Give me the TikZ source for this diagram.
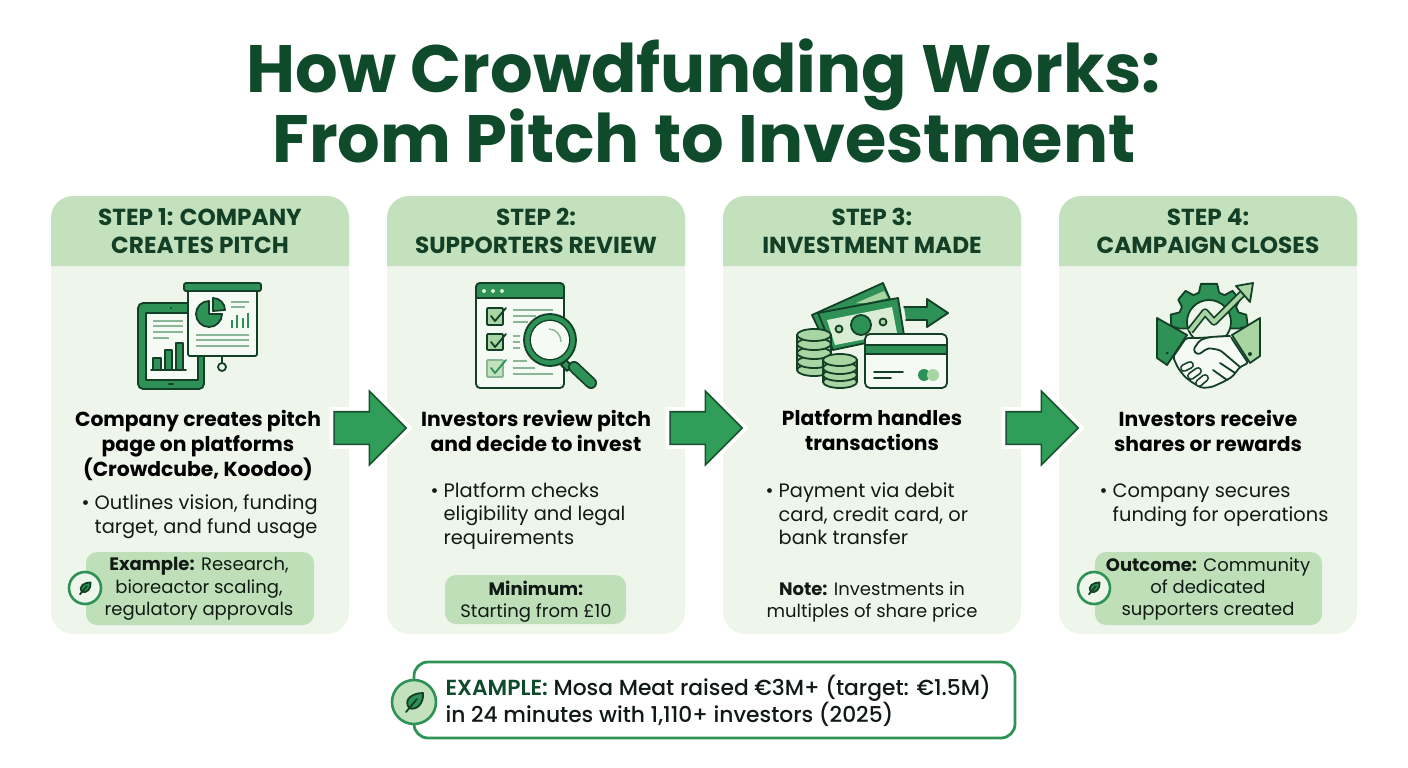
\documentclass[tikz,border=0pt]{standalone}
\usepackage{fontspec}
\usetikzlibrary{shapes.arrows}
\setmainfont{Poppins}
\newfontfamily\poppinssemi{Poppins SemiBold}
\newfontfamily\poppinsmed{Poppins Medium}
\definecolor{titlegreen}{HTML}{0F4A2B}
\definecolor{headgreen}{HTML}{C3E1BC}
\definecolor{cardgreen}{HTML}{EEF6EC}
\definecolor{screengreen}{HTML}{F6FAF5}
\definecolor{notegreen}{HTML}{BFDFB9}
\definecolor{midgreen}{HTML}{2E9256}
\definecolor{arrowgreen}{HTML}{2F9E58}
\definecolor{lightgreen}{HTML}{A9D5A3}
\definecolor{palegreen}{HTML}{D8EDD3}
\definecolor{inkgreen}{HTML}{123F26}
\definecolor{linegreen}{HTML}{8AB896}
\definecolor{inktext}{HTML}{111A14}
\tikzset{
  titletext/.style={align=center, text=titlegreen, font={\fontsize{67}{70}\bfseries\selectfont\lineskiplimit -100pt\relax}},
  headtext/.style={align=center, text=inkgreen, font=\fontsize{23.2}{28}\bfseries\selectfont},
  leadtext/.style={align=center, text=black, font=\fontsize{20.3}{25}\bfseries\selectfont},
  bullettext/.style={align=left, anchor=west, text=inktext, font=\fontsize{19.4}{23.6}\selectfont},
  notetext/.style={align=center, text=inktext, font=\fontsize{18}{22.3}\selectfont},
  cardbody/.style={rectangle, fill=cardgreen, rounded corners=22, minimum width=298, minimum height=438, inner sep=0pt},
  headfill/.style={fill=headgreen},
  notebox/.style={rectangle, fill=notegreen, rounded corners=11, inner sep=0pt},
  steparrow/.style={single arrow, draw=inkgreen!80!arrowgreen, fill=arrowgreen, line width=1.6pt, minimum width=72, minimum height=72,
    single arrow head extend=20.5, inner sep=15.5, preaction={draw=white, line width=9pt}},
  smallbadge/.style={circle, draw=midgreen, fill=cardgreen, line width=2.6pt, minimum size=32, inner sep=0pt},
  bigbadge/.style={circle, draw=midgreen, fill=headgreen, line width=2.6pt, minimum size=44, inner sep=0pt},
  iconline/.style={draw=inkgreen, line width=1.8pt, line join=round, line cap=round},
  softline/.style={draw=linegreen, line width=1.6pt},
  barline/.style={draw=midgreen, line width=1.6pt},
  coinface/.style={iconline, fill=lightgreen},
  leaf/.pic={
    \draw[iconline, fill=midgreen] (-5,6) .. controls (-11,-3) and (-1,-9) .. (9,-9) .. controls (10,2) and (2,9) .. (-5,6) -- cycle;
    \draw[iconline] (-8,10) -- (3,-3);
  },
}
\begin{document}
\begin{tikzpicture}[x=1pt, y=-1pt]
    \useasboundingbox (0, 0) rectangle (1408, 768);

    \node[titletext] at (704, 101) (title) {How Crowdfunding Works:\\From Pitch to Investment};

    \node[cardbody] at (200, 415)  (card1) {};
    \node[cardbody] at (536, 415)  (card2) {};
    \node[cardbody] at (872, 415)  (card3) {};
    \node[cardbody] at (1208, 415) (card4) {};

    \path[headfill] (51, 266) [rounded corners=22] -- (51, 196) -- (349, 196) [sharp corners] -- (349, 266) -- cycle;
    \path[headfill] (387, 266) [rounded corners=22] -- (387, 196) -- (685, 196) [sharp corners] -- (685, 266) -- cycle;
    \path[headfill] (723, 266) [rounded corners=22] -- (723, 196) -- (1021, 196) [sharp corners] -- (1021, 266) -- cycle;
    \path[headfill] (1059, 266) [rounded corners=22] -- (1059, 196) -- (1357, 196) [sharp corners] -- (1357, 266) -- cycle;

    \node[headtext] at (200, 231)  (head1) {STEP 1: COMPANY\\CREATES PITCH};
    \node[headtext] at (536, 231)  (head2) {STEP 2:\\SUPPORTERS REVIEW};
    \node[headtext] at (872, 231)  (head3) {STEP 3:\\INVESTMENT MADE};
    \node[headtext] at (1208, 231) (head4) {STEP 4:\\CAMPAIGN CLOSES};

    \node[steparrow] at (362, 428)  (arrow1) {};
    \node[steparrow] at (698, 428)  (arrow2) {};
    \node[steparrow] at (1034, 428) (arrow3) {};

    \draw[iconline, fill=midgreen, rounded corners=5] (138, 303) rectangle (204, 389);
    \draw[iconline, fill=screengreen] (146, 313) rectangle (198, 380);
    \fill[inkgreen] (171, 308) circle[radius=1];
    \draw[iconline] (169, 384) -- (173, 384);
    \draw[softline] (153, 321) -- (183, 321);
    \draw[softline] (153, 326) -- (183, 326);
    \draw[softline] (153, 332) -- (183, 332);
    \draw[softline] (153, 338) -- (169, 338);
    \draw[iconline, fill=midgreen] (153, 358) rectangle (161, 370);
    \draw[iconline, fill=midgreen] (165, 350) rectangle (172, 370);
    \draw[iconline, fill=midgreen] (176, 343) rectangle (183, 370);
    \draw[iconline] (151, 370) -- (186, 370);
    \draw[iconline, fill=screengreen, rounded corners=2] (188, 288) rectangle (257, 356);
    \draw[iconline, fill=midgreen, rounded corners=2] (184, 283) rectangle (261, 291);
    \draw[iconline] (222, 356) -- (222, 363);
    \draw[iconline] (222, 367) circle[radius=4];
    \draw[iconline, fill=midgreen] (209, 314) -- (222, 314) arc[start angle=0, end angle=270, radius=13] -- cycle;
    \draw[iconline, fill=midgreen] (213, 311) -- (213, 298) arc[start angle=270, end angle=360, radius=12] -- cycle;
    \draw[softline] (231, 302) -- (249, 302);
    \draw[softline] (231, 307) -- (245, 307);
    \draw[barline] (232, 328) -- (232, 320);
    \draw[barline] (237, 328) -- (237, 315);
    \draw[barline] (243, 328) -- (243, 318);
    \draw[barline] (248, 328) -- (248, 313);
    \draw[softline] (196, 335) -- (249, 335);
    \draw[softline] (196, 340) -- (249, 340);
    \draw[softline] (196, 346) -- (249, 346);

    \draw[iconline, fill=screengreen, rounded corners=4] (476, 283) rectangle (564, 388);
    \draw[iconline, fill=midgreen] (476, 298) [rounded corners=4] -- (476, 283) -- (564, 283) [sharp corners] -- (564, 298) -- cycle;
    \fill[palegreen] (484, 291) circle[radius=2];
    \fill[palegreen] (493, 291) circle[radius=2];
    \fill[palegreen] (502, 291) circle[radius=2];
    \draw[iconline, fill=lightgreen, rounded corners=1] (487, 308) rectangle (503, 325);
    \draw[iconline, fill=lightgreen, rounded corners=1] (487, 334) rectangle (503, 350);
    \draw[draw=linegreen, line width=1.8pt, fill=headgreen, rounded corners=1] (487, 360) rectangle (503, 377);
    \draw[iconline] (491, 316) -- (495, 321) -- (506, 308);
    \draw[iconline] (491, 342) -- (495, 347) -- (506, 334);
    \draw[iconline, draw=midgreen] (491, 368) -- (495, 373) -- (506, 360);
    \draw[softline] (513, 310) -- (553, 310);
    \draw[softline] (513, 316) -- (536, 316);
    \draw[softline] (513, 322) -- (528, 322);
    \draw[softline] (513, 336) -- (520, 336);
    \draw[softline] (513, 342) -- (520, 342);
    \draw[softline] (513, 348) -- (520, 348);
    \draw[softline] (513, 361) -- (527, 361);
    \draw[softline] (513, 368) -- (535, 368);
    \draw[softline] (513, 374) -- (553, 374);
    \draw[iconline, fill=midgreen] (566, 360) -- (572, 366) -- (567, 371) -- (561, 365) -- cycle;
    \draw[iconline, line width=12pt] (574, 367) -- (591, 383);
    \draw[draw=midgreen, line width=8.6pt, line cap=round] (574, 367) -- (591, 383);
    \draw[iconline, fill=midgreen, even odd rule] (550, 340) circle[radius=26] circle[radius=19.5];
    \fill[screengreen] (550, 340) circle[radius=19];
    \draw[draw=linegreen, line width=1.4pt] (549, 329) .. controls (556, 329) and (561, 335) .. (561, 342);

    \draw[iconline, fill=midgreen] (812, 315) -- (883, 283) -- (892, 304) -- (822, 336) -- cycle;
    \fill[lightgreen] (856, 303) -- (884, 291) -- (888, 298) -- (866, 303) -- cycle;
    \draw[iconline, fill=midgreen] (818, 313) -- (898, 298) -- (904, 335) -- (833, 350) -- cycle;
    \fill[palegreen] (827, 320) -- (892, 307) -- (897, 333) -- (835, 345) -- cycle;
    \draw[iconline, fill=midgreen] (861, 325) circle[radius=10];
    \draw[iconline, fill=lightgreen] (839, 329) circle[radius=3.5];
    \draw[iconline, fill=lightgreen] (883, 322) circle[radius=3.5];
    \draw[iconline, fill=midgreen] (904, 307) -- (927, 307) -- (927, 299) -- (948, 313) -- (927, 327) -- (927, 320) -- (906, 320);
    \draw[coinface] (797, 335) rectangle (831, 370);
    \draw[coinface] (814, 370) ellipse[x radius=17, y radius=6];
    \draw[coinface] (814, 362) ellipse[x radius=17, y radius=6];
    \draw[coinface] (814, 353) ellipse[x radius=17, y radius=6];
    \draw[coinface] (814, 344) ellipse[x radius=17, y radius=6];
    \draw[coinface] (814, 335) ellipse[x radius=17, y radius=6];
    \draw[coinface] (823, 360) rectangle (857, 382);
    \draw[coinface] (840, 382) ellipse[x radius=17, y radius=6];
    \draw[coinface] (840, 375) ellipse[x radius=17, y radius=6];
    \draw[coinface] (840, 368) ellipse[x radius=17, y radius=6];
    \draw[coinface] (840, 360) ellipse[x radius=17, y radius=6];
    \draw[iconline, fill=screengreen, rounded corners=5] (865, 334) rectangle (947, 388);
    \draw[draw=inkgreen, line width=1.2pt, fill=midgreen] (865, 345) rectangle (947, 354);
    \draw[iconline] (874, 372) -- (903, 372);
    \draw[iconline] (874, 378) -- (891, 378);
    \fill[midgreen] (924, 375) circle[radius=6];
    \fill[lightgreen] (933, 375) circle[radius=6];

    \begin{scope}[shift={(1209, 322)}]
      \draw[iconline, fill=midgreen] (168:31) -- (174:38) -- (191:39) -- (198:31) -- (209:31) -- (216:38) -- (233:39) -- (240:31)
        -- (251:31) -- (258:39) -- (282:39) -- (289:31) -- (300:31) -- (307:39) -- (324:38) -- (331:31) -- (342:31) -- (349:38) -- (6:39) -- (12:31) -- cycle;
      \draw[iconline, fill=cardgreen] (0, 0) circle[radius=22];
    \end{scope}
    \draw[iconline, line width=7.5pt, line cap=butt] (1190, 331) -- (1205, 312) -- (1214, 322) -- (1242, 294);
    \draw[draw=lightgreen, line width=4pt, line join=round] (1190, 331) -- (1205, 312) -- (1214, 322) -- (1242, 294);
    \draw[iconline, fill=lightgreen] (1253, 283) -- (1236, 286) -- (1250, 302) -- cycle;
    \draw[iconline, fill=screengreen, rounded corners=2] (1186, 338) -- (1198, 338) -- (1230, 336) -- (1248, 363) -- (1240, 367) -- (1232, 377) -- (1223, 382)
      -- (1212, 387) -- (1202, 388) -- (1193, 383) -- (1185, 377) -- (1178, 368) -- (1173, 357) -- cycle;
    \draw[iconline, fill=screengreen, rounded corners=3] (1230, 336) -- (1210, 337) -- (1200, 340) -- (1193, 350) -- (1198, 355) -- (1208, 348) -- (1220, 350) -- (1240, 367);
    \draw[iconline] (1213, 370) -- (1227, 380);
    \draw[iconline] (1220, 363) -- (1235, 373);
    \draw[iconline, line width=8pt] (1184, 368) -- (1190, 365);
    \draw[draw=screengreen, line width=4.6pt, line cap=round] (1184, 368) -- (1190, 365);
    \draw[iconline, line width=8pt] (1191, 376) -- (1198, 371);
    \draw[draw=screengreen, line width=4.6pt, line cap=round] (1191, 376) -- (1198, 371);
    \draw[iconline, line width=8pt] (1199, 383) -- (1205, 378);
    \draw[draw=screengreen, line width=4.6pt, line cap=round] (1199, 383) -- (1205, 378);
    \draw[iconline, fill=midgreen] (1157, 318) -- (1187, 335) -- (1167, 365) -- (1157, 358) -- cycle;
    \draw[iconline, fill=lightgreen] (1260, 318) -- (1232, 335) -- (1250, 363) -- (1260, 356) -- cycle;
    \fill[inkgreen] (1167, 353) circle[radius=1.5];
    \fill[inkgreen] (1250, 354) circle[radius=2];

    \node[leadtext] at (198, 445)  (lead1) {Company creates pitch\\page on platforms\\(Crowdcube, Koodoo)};
    \node[leadtext] at (536, 430.5)  (lead2) {Investors review pitch\\and decide to invest};
    \node[leadtext] at (872, 430.5)  (lead3) {Platform handles\\transactions};
    \node[leadtext] at (1208, 430.5) (lead4) {Investors receive\\shares or rewards};

    \node[bullettext] at (78, 517)   (point1) {• Outlines vision, funding\\\hphantom{• }target, and fund usage};
    \node[bullettext] at (427, 516)  (point2) {• Platform checks\\\hphantom{• }eligibility and legal\\\hphantom{• }requirements};
    \node[bullettext] at (762, 514)  (point3) {• Payment via debit\\\hphantom{• }card, credit card, or\\\hphantom{• }bank transfer};
    \node[bullettext] at (1096, 505.5) (point4) {• Company secures\\\hphantom{• }funding for operations};

    \node[notebox, minimum width=228, minimum height=73] at (200, 588.5) (box1) {};
    \node[notebox, minimum width=181, minimum height=49] at (535.5, 599.5) (box2) {};
    \node[notebox, minimum width=227, minimum height=73] at (1208.5, 588.5) (box4) {};

    \node[notetext] at (199, 589)  (note1) {\textbf{Example:} Research,\\bioreactor scaling,\\regulatory approvals};
    \node[notetext] at (536, 601.5)  (note2) {\textbf{Minimum:}\\Starting from £10};
    \node[notetext] at (872, 602)  (note3) {\textbf{Note:} Investments in\\multiples of share price};
    \node[notetext] at (1208, 589) (note4) {\textbf{Outcome:} Community\\of dedicated\\supporters created};

    \node[smallbadge] at (85, 588)   (badge1) {};
    \node[smallbadge] at (1094, 588) (badge4) {};
    \pic[scale=0.62, line width=1.4pt] at (badge1) {leaf};
    \pic[scale=0.62, line width=1.4pt] at (badge4) {leaf};

    \node[rectangle, draw=midgreen, fill=white, line width=2.8pt, rounded corners=14, minimum width=601, minimum height=76, inner sep=0pt] at (714.5, 700) (examplebox) {};
    \node[bigbadge] at (414, 702) (badgemain) {};
    \pic at (badgemain) {leaf};
    \node[align=left, anchor=west, text=inktext, font=\fontsize{21.8}{25.5}\poppinsmed\selectfont] at (442, 701) (exampletext)
      {{\poppinssemi\color{titlegreen}EXAMPLE:} Mosa Meat raised €3M+ (target: €1.5M)\\in 24 minutes with 1,110+ investors (2025)};
\end{tikzpicture}
\end{document}
